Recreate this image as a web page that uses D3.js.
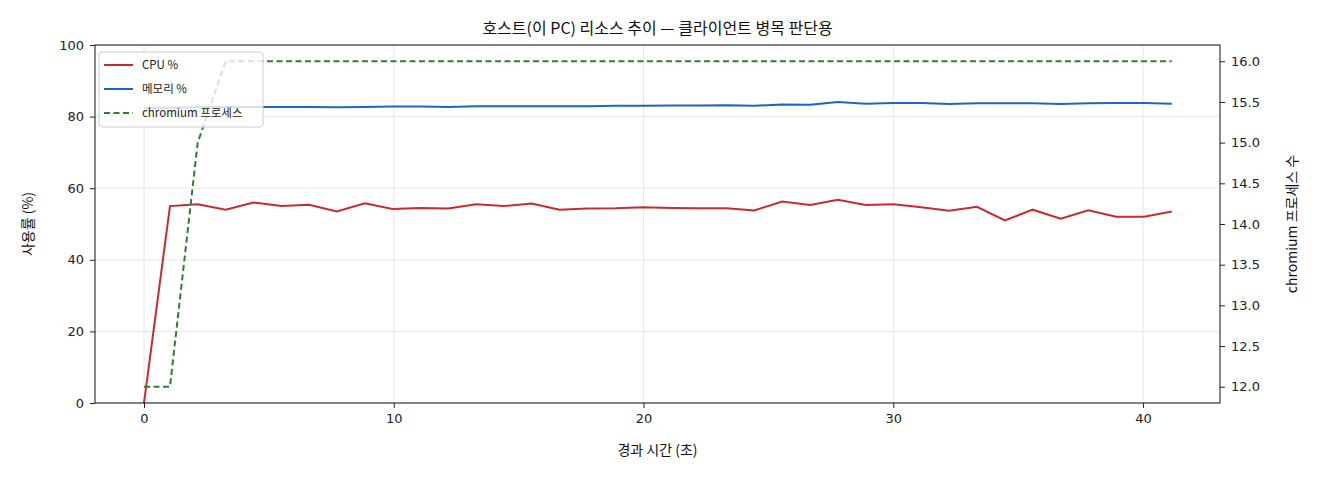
<!DOCTYPE html>
<html><head><meta charset="utf-8">
<script src="https://cdn.jsdelivr.net/npm/d3@7"></script>
<style>body{margin:0;background:#fff;font-family:"Noto Sans CJK KR","DejaVu Sans",sans-serif;}</style>
</head><body><svg id="c" width="1320" height="480"></svg>
<script>
const times=[0,1.04,2.15,3.27,4.38,5.5,6.61,7.72,8.84,9.95,11.07,12.18,13.3,14.41,15.52,16.64,17.75,18.87,19.98,21.1,22.21,23.32,24.44,25.55,26.67,27.78,28.9,30.01,31.12,32.24,33.35,34.47,35.58,36.7,37.81,38.92,40.04,41.15];
const cpu=[0,55,55.5,54,56,55,55.4,53.5,55.8,54.2,54.5,54.3,55.5,55,55.7,54,54.3,54.4,54.7,54.5,54.4,54.4,53.8,56.3,55.3,56.8,55.3,55.5,54.7,53.7,54.8,51,54,51.5,53.8,52,52,53.5];
const mem=[82.3,82.5,82.6,82.7,82.7,82.7,82.7,82.6,82.7,82.8,82.8,82.7,82.9,82.9,82.9,82.9,82.9,83,83,83.1,83.1,83.2,83,83.4,83.3,84.1,83.6,83.8,83.8,83.5,83.7,83.7,83.7,83.5,83.7,83.8,83.8,83.6];
const procs=[12,12,15,16,16,16,16,16,16,16,16,16,16,16,16,16,16,16,16,16,16,16,16,16,16,16,16,16,16,16,16,16,16,16,16,16,16,16];
const xTicks=[0,10,20,30,40], yTicks=[0,20,40,60,80,100], y2Ticks=[12,12.5,13,13.5,14,14.5,15,15.5,16];
const svg=d3.select("#c");
const L=95,R=1220,T=45,B=403;
const x=d3.scaleLinear().domain([-1.962,43.08]).range([L,R]);
const y=d3.scaleLinear().domain([0,100]).range([B,T]);
const y2=d3.scaleLinear().domain([11.8,16.2]).range([B,T]);
const g=svg.append("g");
g.selectAll(".gx").data(xTicks).join("line").attr("x1",d=>x(d)).attr("x2",d=>x(d)).attr("y1",T).attr("y2",B).attr("stroke","#e6e6e6");
g.selectAll(".gy").data(yTicks).join("line").attr("x1",L).attr("x2",R).attr("y1",d=>y(d)).attr("y2",d=>y(d)).attr("stroke","#e6e6e6");
const ln=(ys,sc)=>d3.line().x((d,i)=>x(times[i])).y(d=>sc(d))(ys);
svg.append("path").attr("d",ln(cpu,y)).attr("fill","none").attr("stroke","#cc2a2a").attr("stroke-width",2);
svg.append("path").attr("d",ln(mem,y)).attr("fill","none").attr("stroke","#1a66c8").attr("stroke-width",2);
svg.append("path").attr("d",ln(procs,y2)).attr("fill","none").attr("stroke","#2e7d32").attr("stroke-width",2).attr("stroke-dasharray","6,3.5");
const fs="13px";
const ax=svg.append("g").attr("transform",`translate(0,${B})`).call(d3.axisBottom(x).tickValues(xTicks).tickSize(5).tickPadding(6));
const ay=svg.append("g").attr("transform",`translate(${L},0)`).call(d3.axisLeft(y).tickValues(yTicks).tickSize(5).tickPadding(6));
const ay2=svg.append("g").attr("transform",`translate(${R},0)`).call(d3.axisRight(y2).tickValues(y2Ticks).tickFormat(d3.format(".1f")).tickSize(5).tickPadding(6));
[ax,ay,ay2].forEach(a=>{a.select(".domain").remove();a.selectAll("text").attr("font-size",fs).attr("fill","#222").attr("font-family","DejaVu Sans");a.selectAll("line").attr("stroke","#222");});
svg.append("rect").attr("x",L).attr("y",T).attr("width",R-L).attr("height",B-T).attr("fill","none").attr("stroke","#111").attr("stroke-width",1);
svg.append("text").attr("x",(L+R)/2).attr("y",34).attr("text-anchor","middle").attr("font-size","16px").attr("fill","#111").text("호스트(이 PC) 리소스 추이 — 클라이언트 병목 판단용");
svg.append("text").attr("x",(L+R)/2).attr("y",455).attr("text-anchor","middle").attr("font-size","14px").attr("fill","#111").text("경과 시간 (초)");
svg.append("text").attr("transform",`translate(33,${(T+B)/2}) rotate(-90)`).attr("text-anchor","middle").attr("font-size","14px").attr("fill","#111").text("사용률 (%)");
svg.append("text").attr("transform",`translate(1297,${(T+B)/2}) rotate(-90)`).attr("text-anchor","middle").attr("font-size","14px").attr("fill","#111").text("chromium 프로세스 수");
const lg=svg.append("g");
lg.append("rect").attr("x",99).attr("y",52).attr("width",164).attr("height",75).attr("rx",3).attr("fill","#fff").attr("fill-opacity",0.8).attr("stroke","#ccc");
const items=[["CPU %","#cc2a2a",null],["메모리 %","#1a66c8",null],["chromium 프로세스","#2e7d32","6,3.5"]];
items.forEach((it,i)=>{const yy=65+i*24;
lg.append("line").attr("x1",104).attr("x2",133).attr("y1",yy).attr("y2",yy).attr("stroke",it[1]).attr("stroke-width",2).attr("stroke-dasharray",it[2]);
lg.append("text").attr("x",142).attr("y",yy+4).attr("font-size","11.5px").attr("fill","#222").text(it[0]);});
</script></body></html>
